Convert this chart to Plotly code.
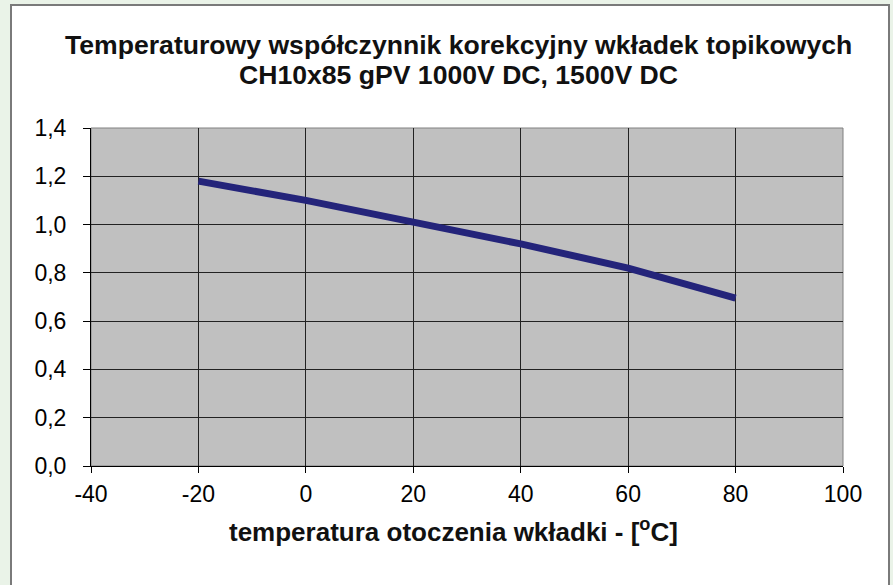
import plotly.graph_objects as go

temps = [-20, 0, 20, 40, 60, 80]
factors = [1.18, 1.10, 1.01, 0.92, 0.82, 0.695]
x_ticks = [-40, -20, 0, 20, 40, 60, 80, 100]
x_tick_labels = ["-40", "-20", "0", "20", "40", "60", "80", "100"]
title_lines = ["Temperaturowy współczynnik korekcyjny wkładek topikowych",
               "CH10x85 gPV 1000V DC, 1500V DC"]
x_title = "temperatura otoczenia wkładki - [<sup>o</sup>C]"

W, H = 893, 585
L, R, T, B = 91, 50, 128, 119
pw, ph = W - L - R, H - T - B

def px_x(x):
    return (x - L) / pw

def px_y(y):
    return (H - B - y) / ph

fig = go.Figure()
fig.add_trace(go.Scatter(x=temps, y=factors, mode="lines",
                         line=dict(color="#24247A", width=7),
                         hoverinfo="skip", showlegend=False))

font = "Liberation Sans, Arial, sans-serif"

fig.update_layout(
    width=W, height=H,
    margin=dict(l=L, r=R, t=T, b=B),
    paper_bgcolor="#EAF3E8",
    plot_bgcolor="rgba(0,0,0,0)",
    separators=", ",
    font=dict(family=font, color="#000000", size=23),
    xaxis=dict(range=[-40, 100], tickmode="array", tickvals=x_ticks,
               ticktext=x_tick_labels,
               showgrid=True, gridcolor="#222222", gridwidth=1,
               showline=True, linecolor="#000000", linewidth=1,
               ticks="outside", ticklen=6, tickcolor="#000000",
               ticklabelstandoff=1,
               zeroline=False, fixedrange=True,
               tickfont=dict(size=23)),
    yaxis=dict(range=[0, 1.4], dtick=0.2, tick0=0, tickformat=".1f",
               showgrid=True, gridcolor="#222222", gridwidth=1,
               showline=True, linecolor="#000000", linewidth=1,
               ticks="outside", ticklen=7, tickcolor="#000000",
               ticklabelstandoff=12,
               zeroline=False, fixedrange=True,
               tickfont=dict(size=23)),
    shapes=[
        dict(type="rect", xref="paper", yref="paper", layer="below",
             x0=px_x(11), x1=px_x(889), y0=px_y(H + 20), y1=px_y(5),
             fillcolor="#FFFFFF", line=dict(color="#7A7A7A", width=2)),
        dict(type="rect", xref="paper", yref="paper", layer="below",
             x0=0, x1=1, y0=0, y1=1,
             fillcolor="#C0C0C0", line=dict(color="#808080", width=1)),
    ],
    annotations=[
        dict(text="<b>" + title_lines[0] + "</b>", xref="paper", yref="paper",
             x=px_x(458), y=px_y(45), xanchor="center", yanchor="middle",
             showarrow=False, font=dict(size=26.6, family=font, color="#111111")),
        dict(text="<b>" + title_lines[1] + "</b>", xref="paper", yref="paper",
             x=px_x(458), y=px_y(75), xanchor="center", yanchor="middle",
             showarrow=False, font=dict(size=26.6, family=font, color="#111111")),
        dict(text="<b>" + x_title + "</b>", xref="paper", yref="paper",
             x=px_x(453), y=px_y(530), xanchor="center", yanchor="middle",
             showarrow=False, font=dict(size=26, family=font, color="#111111")),
    ],
)

fig.write_html("out.html",
               config={"displayModeBar": False, "staticPlot": True},
               post_script="document.body.style.margin='0';"
                           "document.body.style.background='#EAF3E8';"
                           "document.body.style.overflow='hidden';")
